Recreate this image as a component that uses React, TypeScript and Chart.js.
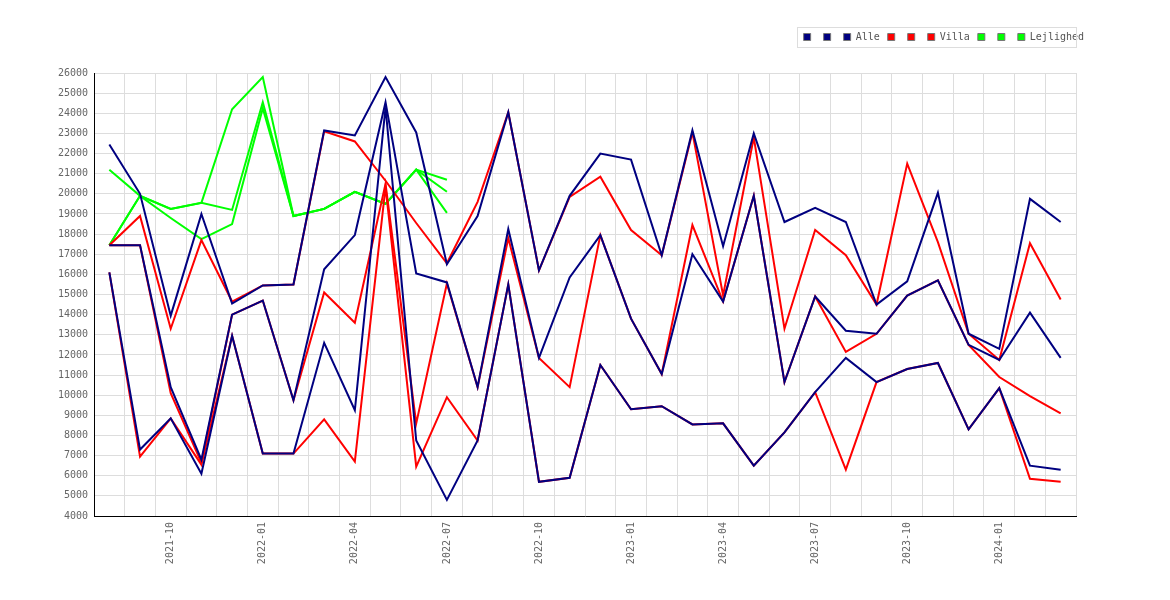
import React, { useEffect, useRef } from 'react';
import { Chart, registerables } from 'chart.js';

Chart.register(...registerables);

const months = [
  '2021-08', '2021-09', '2021-10', '2021-11', '2021-12', '2022-01', '2022-02', '2022-03',
  '2022-04', '2022-05', '2022-06', '2022-07', '2022-08', '2022-09', '2022-10', '2022-11',
  '2022-12', '2023-01', '2023-02', '2023-03', '2023-04', '2023-05', '2023-06', '2023-07',
  '2023-08', '2023-09', '2023-10', '2023-11', '2023-12', '2024-01', '2024-02', '2024-03',
];

// Alle
const alleHigh = [
  22450, 20000, 13950, 19000, 14550, 15450, 15500, 23150, 22900, 25800, 23050, 16500,
  18900, 24050, 16200, 19900, 22000, 21700, 16950, 23150, 17400, 23000, 18600, 19300,
  18600, 14500, 15650, 20050, 13050, 12300, 19750, 18600,
];
const alleMid = [
  17450, 17450, 10400, 6800, 14000, 14700, 9750, 16250, 17950, 24550, 16050, 15600,
  10400, 18250, 11850, 15850, 17950, 13800, 11050, 17000, 14650, 19900, 10650, 14900,
  13200, 13050, 14950, 15700, 12500, 11750, 14100, 11850,
];
const alleLow = [
  16100, 7300, 8850, 6100, 12950, 7100, 7100, 12600, 9250, 24300, 7750, 4800,
  7750, 15500, 5700, 5900, 11500, 9300, 9450, 8550, 8600, 6500, 8150, 10150,
  11850, 10650, 11300, 11600, 8300, 10350, 6500, 6300,
];

// Villa
const villaHigh = [
  17450, 18900, 13300, 17700, 14650, 15450, 15500, 23100, 22600, 20650, 18550, 16550,
  19600, 24050, 16200, 19850, 20850, 18200, 16950, 23050, 14950, 22800, 13300, 18200,
  16950, 14500, 21500, 17600, 13050, 11750, 17550, 14750,
];
const villaMid = [
  17450, 17450, 10100, 6650, 14000, 14700, 9750, 15100, 13600, 20500, 8600, 15550,
  10400, 17800, 11850, 10400, 17950, 13800, 11050, 18450, 14650, 19900, 10650, 14900,
  12150, 13050, 14950, 15700, 12500, 10900, 9950, 9100,
];
const villaLow = [
  16100, 6950, 8850, 6550, 12950, 7100, 7100, 8800, 6700, 20350, 6450, 9900,
  7750, 15500, 5700, 5900, 11500, 9300, 9450, 8550, 8600, 6500, 8150, 10150,
  6300, 10650, 11300, 11600, 8300, 10350, 5850, 5700,
];

// Lejlighed (kun data til 2022-07)
const lejlighedHigh = [
  21200, 19900, 19250, 19550, 24200, 25800, 18900, 19250, 20100, 19500, 21200, 20700,
];
const lejlighedMid = [
  17450, 19900, 19250, 19550, 19200, 24550, 18900, 19250, 20100, 19500, 21200, 20100,
];
const lejlighedLow = [
  17450, 19900, 18800, 17750, 18500, 24250, 18900, 19250, 20100, 19500, 21200, 19050,
];

const yTicks = { min: 4000, max: 26000, step: 1000 };

const NAVY = '#000080';
const RED = '#ff0000';
const GREEN = '#00ff00';

const line = (label: string, data: (number | null)[], color: string) => ({
  label,
  data,
  borderColor: color,
  backgroundColor: color,
  borderWidth: 2,
  pointRadius: 0,
  tension: 0,
  fill: false,
});

const pad = (arr: number[]) => months.map((_, i) => (i < arr.length ? arr[i] : null));

// legend sits higher than the plot top, with a thin frame round it
const legendFrame = {
  id: 'legendFrame',
  afterUpdate(chart: any) {
    const lg = chart.legend;
    if (!lg) return;
    const dy = 21;
    lg.top -= dy;
    lg.bottom -= dy;
    (lg.legendHitBoxes || []).forEach((h: any) => {
      h.top -= dy;
    });
  },
  afterDraw(chart: any) {
    const boxes = chart.legend?.legendHitBoxes;
    if (!boxes || !boxes.length) return;
    const c = chart.ctx;
    const first = boxes[0];
    const top = Math.round(first.top + first.height / 2 - 10);
    const left = Math.round(first.left - 7);
    c.save();
    c.strokeStyle = '#dddddd';
    c.lineWidth = 1;
    c.strokeRect(left + 0.5, top + 0.5, Math.round(chart.chartArea.right) - left, 20);
    c.restore();
  },
};

const App: React.FC = () => {
  const chartRef = useRef<HTMLCanvasElement>(null);

  useEffect(() => {
    if (!chartRef.current) return;
    const ctx = chartRef.current.getContext('2d');
    if (!ctx) return;

    Chart.defaults.font.family = '"DejaVu Sans Mono", monospace';
    Chart.defaults.font.size = 10;
    Chart.defaults.color = '#666666';

    const chart = new Chart(ctx, {
      type: 'line',
      data: {
        labels: months,
        datasets: [
          line('', alleHigh, NAVY),
          line('', alleMid, NAVY),
          line('Alle', alleLow, NAVY),
          line('', villaHigh, RED),
          line('', villaMid, RED),
          line('Villa', villaLow, RED),
          line('', pad(lejlighedHigh), GREEN),
          line('', pad(lejlighedMid), GREEN),
          line('Lejlighed', pad(lejlighedLow), GREEN),
        ],
      },
      options: {
        animation: false,
        responsive: true,
        maintainAspectRatio: false,
        layout: { padding: { left: 46, right: 70, top: 12, bottom: 26 } },
        plugins: {
          tooltip: { enabled: false },
          legend: {
            position: 'top',
            align: 'end',
            labels: {
              boxWidth: 7,
              boxHeight: 7,
              padding: 8,
              color: '#555555',
              font: { size: 10 },
              generateLabels: (c: any) =>
                Chart.defaults.plugins.legend.labels.generateLabels(c).map((l: any) => ({
                  ...l,
                  strokeStyle: '#777777',
                  lineWidth: 1,
                })),
            },
          },
        },
        scales: {
          x: {
            type: 'category',
            offset: true,
            grid: { offset: true, color: '#dddddd', drawTicks: false },
            border: { color: '#000000', width: 1 },
            ticks: {
              autoSkip: false,
              maxRotation: 90,
              minRotation: 90,
              padding: 6,
              callback: (_v: any, index: number) => (index % 3 === 2 ? months[index] : ''),
            },
            afterFit: (s: any) => {
              s.height = 50;
              s.paddingRight = 86;
            },
          },
          y: {
            min: yTicks.min,
            max: yTicks.max,
            grid: { color: '#dddddd', drawTicks: false },
            border: { color: '#000000', width: 1 },
            ticks: {
              stepSize: yTicks.step,
              padding: 6,
              callback: (v: any) => String(v),
            },
            afterFit: (s: any) => {
              s.width = 40;
              s.paddingTop = 65;
            },
          },
        },
      },
      plugins: [legendFrame],
    });

    return () => {
      chart.destroy();
    };
  }, []);

  return (
    <div style={{ width: 1154, height: 584 }}>
      <canvas ref={chartRef} />
    </div>
  );
};

export default App;
